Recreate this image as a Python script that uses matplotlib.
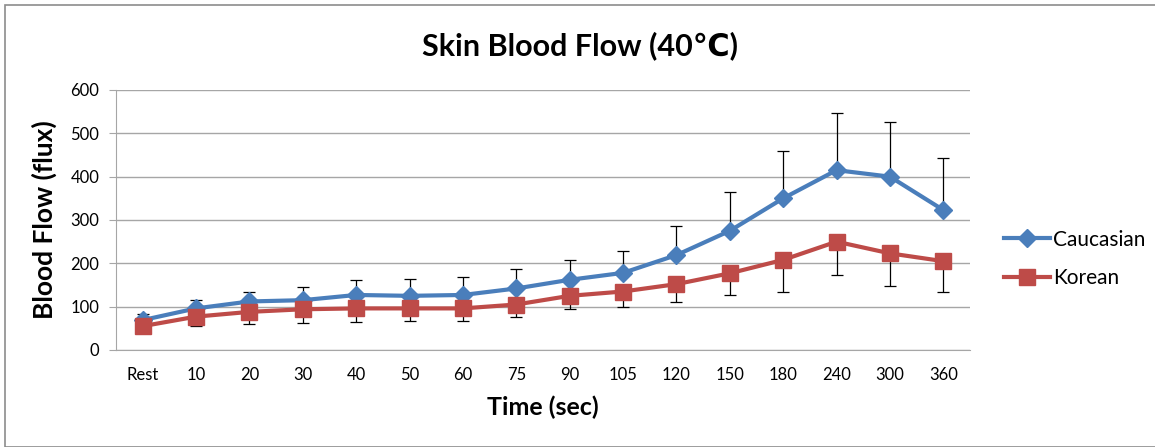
import matplotlib.pyplot as plt
from matplotlib.patches import Rectangle

plt.rcParams['font.family'] = ['Lato', 'DejaVu Sans']

# data
times = ["Rest", "10", "20", "30", "40", "50", "60", "75", "90",
         "105", "120", "150", "180", "240", "300", "360"]
caucasian = [69, 96, 112, 115, 127, 125, 127, 142, 162, 178, 219, 275, 350, 415, 400, 323]
caucasian_top = [82, 115, 135, 146, 162, 164, 168, 188, 207, 228, 287, 364, 460, 546, 525, 442]
korean = [55, 77, 88, 94, 96, 96, 96, 105, 125, 135, 152, 177, 208, 250, 223, 205]
korean_low = [50, 55, 60, 62, 65, 67, 67, 76, 94, 100, 111, 128, 135, 173, 148, 133]

blue = '#4A7EBB'
red = '#BE4B48'

fig = plt.figure(figsize=(11.55, 4.47), dpi=100)
fig.patches.append(Rectangle((5 / 1155, 0), 1.2, (447 - 5) / 447, transform=fig.transFigure,
                             fill=False, edgecolor='#8c8c8c', linewidth=1.2))
ax = fig.add_axes([116 / 1155, 97 / 447, 854 / 1155, 260 / 447])

x = list(range(len(times)))

# error bars: Caucasian upward, Korean downward
c_err = [[0] * len(x), [t - v for t, v in zip(caucasian_top, caucasian)]]
k_err = [[v - l for v, l in zip(korean, korean_low)], [0] * len(x)]
ax.errorbar(x, caucasian, yerr=c_err, fmt='none', ecolor='black', elinewidth=0.9,
            capsize=4, capthick=0.9, zorder=2)
ax.errorbar(x, korean, yerr=k_err, fmt='none', ecolor='black', elinewidth=0.9,
            capsize=4, capthick=0.9, zorder=2)

ax.plot(x, caucasian, color=blue, linewidth=3, marker='D', markersize=9,
        markeredgecolor=blue, label='Caucasian', zorder=3)
ax.plot(x, korean, color=red, linewidth=3, marker='s', markersize=11,
        markeredgecolor=red, label='Korean', zorder=3)

ax.set_xlim(-0.5, len(times) - 0.5)
ax.set_ylim(0, 600)
ax.set_yticks(range(0, 601, 100))
ax.set_xticks(x)
ax.set_xticklabels(times)
ax.yaxis.grid(True, color='#a6a6a6', linewidth=1)
ax.set_axisbelow(True)
for s in ['top', 'right']:
    ax.spines[s].set_visible(False)
ax.spines['left'].set_color('#a6a6a6')
ax.spines['bottom'].set_color('#a6a6a6')
ax.tick_params(axis='y', length=5, color='#a6a6a6', labelsize=12, pad=7)
ax.tick_params(axis='x', length=0, labelsize=12, pad=12)

fig.text(0.502, 1 - 46 / 447, 'Skin Blood Flow (40\u2103)', fontsize=22,
         fontweight='bold', ha='center', va='center')
ax.set_xlabel('Time (sec)', fontsize=18, fontweight='bold', labelpad=9)
ax.set_ylabel('Blood Flow (flux)', fontsize=19, fontweight='bold', labelpad=10)

ax.legend(loc='center left', bbox_to_anchor=(1.018, 0.35), frameon=False,
          fontsize=15, handlelength=2.2, handletextpad=0.15, labelspacing=0.9)

fig.savefig('out.png', dpi=100)
